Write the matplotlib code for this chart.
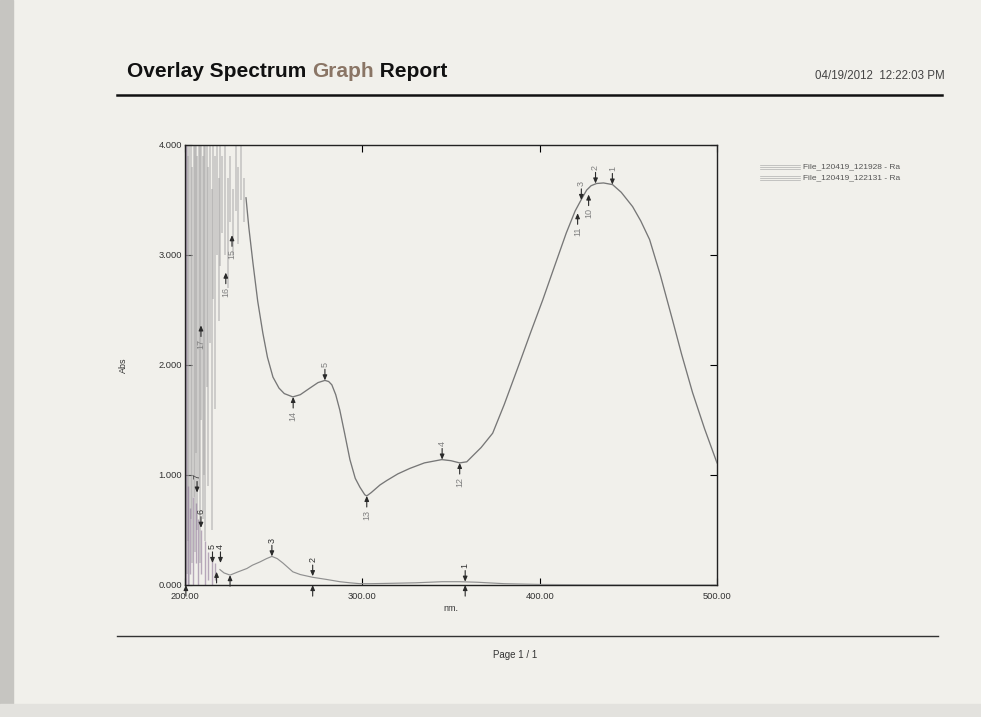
import matplotlib
matplotlib.use("Agg")
import matplotlib.pyplot as plt
from matplotlib.lines import Line2D
from matplotlib.patches import Rectangle

plt.rcParams['font.family'] = ['Liberation Sans', 'DejaVu Sans']

# ---------------- data ----------------
x_ticks = [200, 300, 400, 500]
x_tick_labels = ["200.00", "300.00", "400.00", "500.00"]
y_ticks = [0, 1, 2, 3, 4]
y_tick_labels = ["0.000", "1.000", "2.000", "3.000", "4.000"]

legend_labels = ["File_120419_121928 - Ra", "File_120419_122131 - Ra"]

# file 1 (main spectrum) smooth part
f1_nm = [234.4, 236, 238.3, 241, 243.9, 246.5, 249.6, 253, 256, 260.8, 265, 270.4,
         275, 278.9, 281, 282.8, 285, 287.3, 290, 293, 296, 298.6, 301.4, 302.5,
         305, 310, 313.8, 320, 326.8, 335, 344.8, 350, 354.9, 358.9, 362, 367,
         373.5, 380, 388.7, 395, 401.7, 408, 415, 420, 424, 426.5, 429, 432.1,
         436, 441.1, 446, 452.4, 457, 462, 468, 474.9, 480, 486.2, 493, 500]
f1_abs = [3.52, 3.25, 2.93, 2.58, 2.29, 2.07, 1.89, 1.79, 1.74, 1.71, 1.73, 1.79,
          1.84, 1.86, 1.85, 1.82, 1.73, 1.59, 1.38, 1.14, 0.97, 0.89, 0.82, 0.81,
          0.84, 0.91, 0.95, 1.01, 1.06, 1.11, 1.14, 1.13, 1.11, 1.12, 1.17, 1.25,
          1.38, 1.64, 2.02, 2.30, 2.59, 2.88, 3.20, 3.40, 3.52, 3.59, 3.63, 3.65,
          3.655, 3.64, 3.57, 3.44, 3.31, 3.14, 2.82, 2.41, 2.10, 1.75, 1.42, 1.11]

# file 1 noisy saturated region: streak wavelength, low, high
f1_streak_nm = [201.0, 201.8, 202.5, 203.2, 204.0, 204.8, 205.5, 206.3, 207.0, 207.8,
                208.5, 209.3, 210.0, 210.8, 211.5, 212.3, 213.0, 214.0, 215.0, 216.0,
                217.0, 218.0, 219.0, 220.0, 221.0, 222.5, 224.0, 225.5, 227.0, 228.5,
                230.0, 231.5, 233.0]
f1_streak_lo = [0.1, 0.4, 0.0, 0.6, 0.2, 0.8, 0.3, 1.2, 0.5, 0.9,
                0.2, 1.5, 0.6, 1.0, 0.4, 1.8, 0.9, 2.2, 0.5, 2.6,
                1.6, 3.0, 2.4, 2.9, 3.2, 3.0, 2.7, 3.3, 3.0, 3.4,
                3.1, 3.5, 3.3]
f1_streak_hi = [4.0, 3.9, 4.0, 4.0, 3.8, 4.0, 4.0, 4.0, 3.9, 4.0,
                4.0, 4.0, 3.9, 4.0, 4.0, 4.0, 3.8, 4.0, 3.6, 4.0,
                3.9, 4.0, 3.7, 4.0, 3.9, 4.0, 3.7, 3.9, 3.6, 4.0,
                3.8, 4.0, 3.7]

# file 2 (low spectrum)
f2_nm = [219.7, 222, 225.4, 230, 234.9, 238, 242.3, 246, 249, 252, 255.2, 258,
         260.8, 265, 272, 280, 287.3, 293, 298.6, 305, 315, 330, 345, 355, 365,
         380, 400, 430, 470, 500]
f2_abs = [0.14, 0.11, 0.09, 0.12, 0.15, 0.18, 0.21, 0.24, 0.26, 0.24, 0.20, 0.16,
          0.12, 0.095, 0.07, 0.05, 0.03, 0.02, 0.012, 0.012, 0.015, 0.02, 0.03,
          0.03, 0.025, 0.012, 0.005, 0.002, 0.0, 0.0]
f2_streak_nm = [200.8, 201.5, 203.0, 204.5, 206.0, 207.5, 209.0, 211.0, 213.0, 215.0, 217.0]
f2_streak_lo = [0.0, 0.0, 0.1, 0.0, 0.2, 0.0, 0.1, 0.0, 0.05, 0.0, 0.05]
f2_streak_hi = [4.0, 0.9, 0.7, 0.8, 0.75, 0.6, 0.5, 0.4, 0.3, 0.25, 0.2]

# peak / valley markers: (nm, abs, label)
f1_peaks = [(441.0, 3.64, "1"), (431.5, 3.65, "2"), (423.5, 3.50, "3"),
            (345.0, 1.14, "4"), (278.9, 1.86, "5")]
f1_valleys = [(427.6, 3.55, "10"), (421.4, 3.38, "11"), (354.9, 1.11, "12"),
              (302.5, 0.81, "13"), (261.0, 1.71, "14"), (226.5, 3.18, "15"),
              (223.0, 2.84, "16"), (209.0, 2.36, "17")]
f2_peaks = [(358.0, 0.03, "1"), (272.0, 0.08, "2"), (249.0, 0.26, "3"),
            (220.0, 0.20, "4"), (215.5, 0.20, "5"), (209.0, 0.52, "6"),
            (206.8, 0.84, "7")]
f2_valleys = [(358.0, 0.0, ""), (272.0, 0.0, ""), (225.4, 0.09, ""),
              (217.8, 0.12, ""), (200.5, 0.0, "")]

# ---------------- figure ----------------
W, H = 981, 717
paper = '#f1f0eb'
fig = plt.figure(figsize=(W / 100, H / 100), dpi=100, facecolor=paper)

def fx(px):
    return px / W

def fy(py):
    return 1 - py / H

# scan edges
fig.patches.append(Rectangle((0, 0), fx(13), 1, transform=fig.transFigure,
                             color='#c6c5c1', zorder=-5))
fig.patches.append(Rectangle((0, 0), 1, fy(704), transform=fig.transFigure,
                             color='#e3e2de', zorder=-5))

ax = fig.add_axes([fx(185), fy(585), fx(717) - fx(185), fy(145) - fy(585)])
ax.set_zorder(2)
ax.set_facecolor(paper)
ax.set_xlim(200, 500)
ax.set_ylim(0, 4)

# noisy streaks
ax.vlines(f1_streak_nm, f1_streak_lo, f1_streak_hi, colors='#a4a4a4',
          linewidth=1.1, alpha=0.6, zorder=2)
ax.vlines(f2_streak_nm, f2_streak_lo, f2_streak_hi, colors='#8f7799',
          linewidth=1.0, alpha=0.6, zorder=2)

ax.plot(f1_nm, f1_abs, color='#777777', linewidth=0.95, zorder=3)
ax.plot(f2_nm, f2_abs, color='#909090', linewidth=0.85, zorder=3)

arrow_kw = dict(arrowstyle='-|>,head_length=0.3,head_width=0.13',
                color='#2a2a2a', lw=0.8, shrinkA=0, shrinkB=0)

def mark(nm, a, label, down=True, color='#808080'):
    sign = 1 if down else -1
    ax.annotate('', xy=(nm, a), xytext=(0, sign * 8), textcoords='offset points',
                arrowprops=arrow_kw, zorder=4, annotation_clip=False)
    if label:
        ax.annotate(label, xy=(nm, a), xytext=(0, sign * 10),
                    textcoords='offset points', rotation=90,
                    ha='center', va='bottom' if down else 'top',
                    fontsize=6.5, color=color, zorder=4)

for nm, a, lab in f1_peaks:
    mark(nm, a, lab, True)
for nm, a, lab in f1_valleys:
    mark(nm, a, lab, False)
for nm, a, lab in f2_peaks:
    mark(nm, a, lab, True, color='#333333')
for nm, a, lab in f2_valleys:
    mark(nm, a, lab, False)

ax.set_xticks(x_ticks)
ax.set_xticklabels(x_tick_labels)
ax.set_yticks(y_ticks)
ax.set_yticklabels(y_tick_labels)
ax.tick_params(direction='in', length=5, width=0.8, top=True, right=True,
               labelsize=6.7, labelcolor='#333333')
ax.tick_params(axis='x', pad=5)
ax.tick_params(axis='y', pad=2)
for s in ax.spines.values():
    s.set_linewidth(1.0)
    s.set_color('#222222')
ax.set_xlabel("nm.", fontsize=6.5, color='#333333', labelpad=2)
ax.set_ylabel("Abs", fontsize=6.5, color='#333333', labelpad=22)

# header
renderer = fig.canvas.get_renderer()
t1 = fig.text(fx(127), fy(77), "Overlay Spectrum ", fontsize=15, fontweight='bold',
              color='#111111', va='baseline')
bb = t1.get_window_extent(renderer)
t2 = fig.text(bb.x1 / W, fy(77), "Graph", fontsize=15, fontweight='bold',
              color='#8a7565', va='baseline')
bb2 = t2.get_window_extent(renderer)
fig.text(bb2.x1 / W, fy(77), " Report", fontsize=15, fontweight='bold',
         color='#111111', va='baseline')
fig.text(fx(945), fy(79), "04/19/2012  12:22:03 PM", fontsize=8.3, color='#444444',
         ha='right', va='baseline')
fig.lines.append(Line2D([fx(117), fx(942)], [fy(95), fy(95)], transform=fig.transFigure,
                        color='#111111', linewidth=1.8))

# legend
for i, lab in enumerate(legend_labels):
    yy = 167 + i * 11
    for dy in (-2, 0, 2):
        fig.lines.append(Line2D([fx(760), fx(800)], [fy(yy + dy), fy(yy + dy)],
                                transform=fig.transFigure, color='#a0a0a0',
                                linewidth=0.5, alpha=0.8))
    fig.text(fx(803), fy(yy), lab, fontsize=6, color='#555555', va='center')

# footer
fig.lines.append(Line2D([fx(117), fx(938)], [fy(636), fy(636)], transform=fig.transFigure,
                        color='#333333', linewidth=1.0))
fig.text(fx(515), fy(655), "Page 1 / 1", fontsize=7, color='#333333',
         ha='center', va='center')

fig.savefig("out.png", dpi=100, facecolor=paper)
